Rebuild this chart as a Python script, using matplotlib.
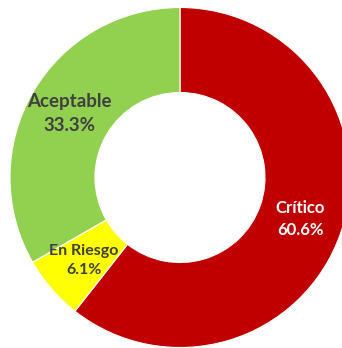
import numpy as np
import matplotlib
matplotlib.use("Agg")
import matplotlib.pyplot as plt

categories = ["Crítico", "En Riesgo", "Aceptable"]
shares = [60.6, 6.1, 33.3]
colors = ["#C00000", "#FFFF00", "#92D050"]
text_colors = ["white", "#404040", "#404040"]
font_sizes = [12, 11.5, 13.5]

fig = plt.figure(figsize=(3.42, 3.48), dpi=100)
ax = fig.add_axes([0, 0, 1, 1])

wedges, _ = ax.pie(
    shares,
    colors=colors,
    startangle=90,
    counterclock=False,
    radius=1.0,
    wedgeprops=dict(width=0.5, edgecolor="white", linewidth=0.8),
)

# Labels sit in the middle of the ring at each wedge's mid-angle
for w, cat, val, tc, fs in zip(wedges, categories, shares, text_colors, font_sizes):
    mid = np.deg2rad((w.theta1 + w.theta2) / 2)
    r = 0.75
    ax.text(r * np.cos(mid), r * np.sin(mid), f"{cat}\n{val:.1f}%",
            ha="center", va="center", color=tc, fontsize=fs,
            fontweight="bold", family="Lato", linespacing=1.45)

scale = 170.0
ax.set_xlim(-180 / scale, (342 - 180) / scale)
ax.set_ylim(-(348 - 177.5) / scale, 177.5 / scale)
ax.set_aspect("auto")
ax.axis("off")

fig.savefig("out.png", dpi=100)
